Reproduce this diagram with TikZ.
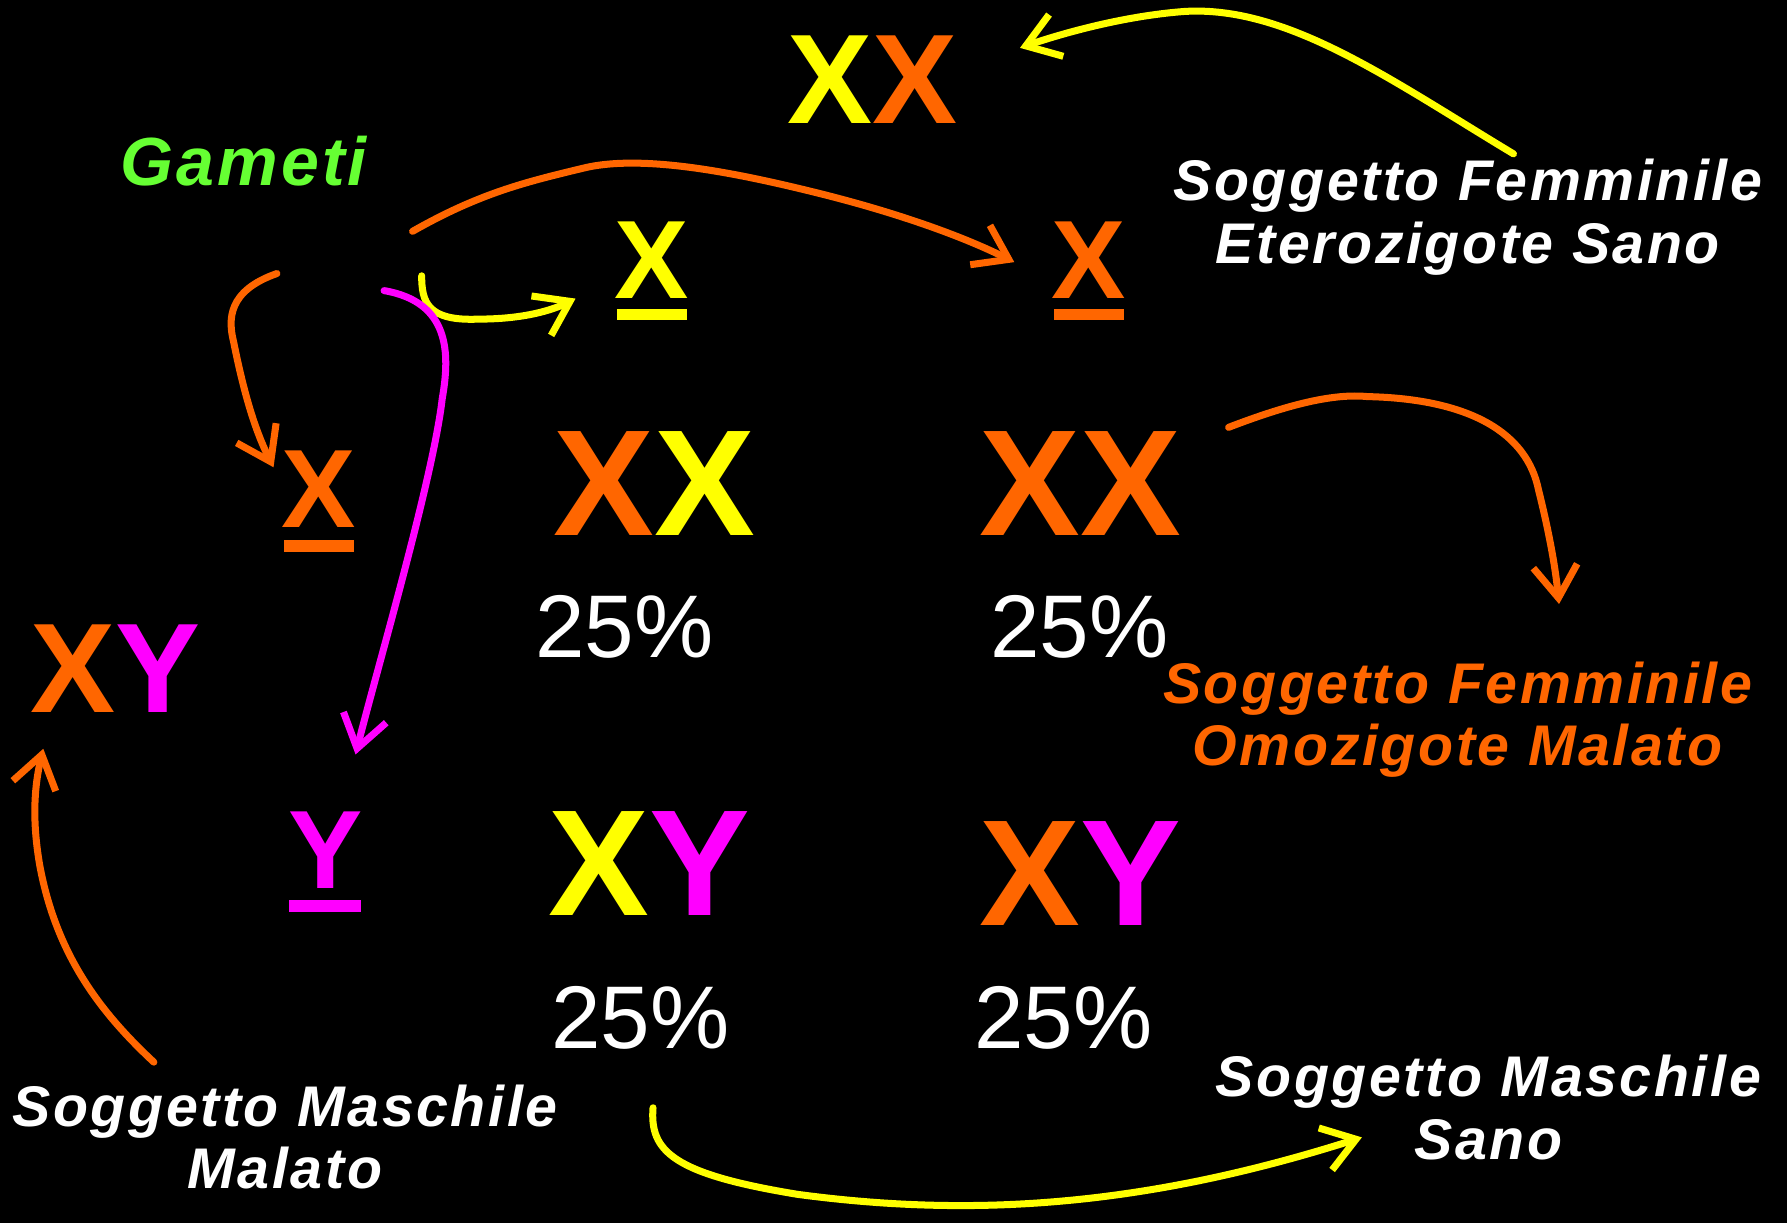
\documentclass[tikz,border=0pt]{standalone}
\usepackage{fontspec}
\setmainfont{Liberation Sans}
\newfontfamily\lblfont[LetterSpace=4.5]{Liberation Sans}
\usetikzlibrary{arrows.meta}
\definecolor{org}{HTML}{FF6600}
\definecolor{yel}{HTML}{FFFF00}
\definecolor{mag}{HTML}{FF00FF}
\definecolor{grn}{HTML}{66FF33}
\tikzset{
  bigpair/.style={inner sep=0, anchor=base, font=\fontsize{37.7}{40}\selectfont\bfseries},
  midpair/.style={inner sep=0, anchor=base, font=\fontsize{31.8}{34}\selectfont\bfseries},
  gamete/.style={inner sep=0, anchor=base, font=\fontsize{27.8}{30}\selectfont\bfseries},
  pct/.style={inner sep=0, anchor=base, text=white, font=\fontsize{22.2}{24}\selectfont},
  lbl/.style={inner sep=0, anchor=base, align=center, font=\lblfont\fontsize{14.3}{15.6}\selectfont\bfseries\itshape},
  conn/.style={line width=1.75pt, line cap=round, -{Straight Barb[length=8pt,width=11pt,line width=1.75pt]}},
}
\begin{document}
\begin{tikzpicture}[x=0.01cm,y=-0.01cm]
\fill[black] (0,0) rectangle (1568,1073);
\useasboundingbox (0,0) rectangle (1568,1073);

% parents
\node[midpair] (ptop) at (766,108) {\color{yel}X\color{org}X};
\node[midpair] (pleft) at (101,625) {\color{org}X\color{mag}Y};

% gametes title
\node[inner sep=0, anchor=base west, text=grn, font=\lblfont\fontsize{17}{19}\selectfont\bfseries\itshape] (gam) at (105,163) {Gameti};

% gametes
\node[gamete, text=yel] (gx1) at (572,262) {X};
\fill[yel] (541,271) rectangle (603,281);
\node[gamete, text=org] (gx2) at (955,262) {X};
\fill[org] (925,271) rectangle (986,281);
\node[gamete, text=org] (gx3) at (280,463) {X};
\fill[org] (249,474) rectangle (311,484);
\node[gamete, text=mag] (gy) at (286,780) {Y};
\fill[mag] (254,790) rectangle (317,800);

% offspring
\node[bigpair] (o11) at (574,470) {\color{org}X\color{yel}X};
\node[bigpair] (o12) at (948,470) {\color{org}X\color{org}X};
\node[bigpair] (o21) at (570,803) {\color{yel}X\color{mag}Y};
\node[bigpair] (o22) at (948,812) {\color{org}X\color{mag}Y};

\node[pct] (p11) at (548,577) {25\%};
\node[pct] (p12) at (947,577) {25\%};
\node[pct] (p21) at (562,920) {25\%};
\node[pct] (p22) at (933,920) {25\%};

% labels (anchor base = last line)
\node[lbl, text=white] (l1) at (1288,231) {Soggetto Femminile\\Eterozigote Sano};
\node[lbl, text=org] (l2) at (1279,672) {Soggetto Femminile\\Omozigote Malato};
\node[lbl, text=white] (l3) at (1306,1017) {Soggetto Maschile\\Sano};
\node[lbl, text=white] (l4) at (250,1043) {Soggetto Maschile\\Malato};

% connector end points
\coordinate (a0) at (1328,135); \coordinate (a1) at (895,42);
\coordinate (b0) at (362,203);  \coordinate (b1) at (890,230);
\coordinate (c0) at (370,242);  \coordinate (c1) at (505,262);
\coordinate (d0) at (337,255);  \coordinate (d1) at (312,662);
\coordinate (e0) at (243,240);  \coordinate (e1) at (240,410);
\coordinate (f0) at (1078,375); \coordinate (f1) at (1368,530);
\coordinate (g0) at (135,932);  \coordinate (g1) at (38,657);
\coordinate (h0) at (573,972);  \coordinate (h1) at (1195,998);

\draw[conn, yel] (a0) .. controls (1220,70) and (1130,5) .. (1040,10) .. controls (985,14) and (930,30) .. (a1);
\draw[conn, org] (b0) .. controls (420,170) and (460,160) .. (510,148) .. controls (560,135) and (640,150) .. (720,170) .. controls (780,185) and (840,205) .. (b1);
\draw[conn, yel] (c0) .. controls (370,265) and (375,282) .. (420,280) .. controls (460,280) and (485,272) .. (c1);
\draw[conn, mag] (d0) .. controls (395,265) and (395,310) .. (388,350) .. controls (380,420) and (330,590) .. (d1);
\draw[conn, org] (e0) .. controls (200,255) and (200,280) .. (205,300) .. controls (215,350) and (225,380) .. (e1);
\draw[conn, org] (f0) .. controls (1130,355) and (1170,345) .. (1200,348) .. controls (1290,350) and (1340,380) .. (1350,430) .. controls (1360,470) and (1365,500) .. (f1);
\draw[conn, org] (g0) .. controls (90,890) and (50,840) .. (35,760) .. controls (28,720) and (30,690) .. (g1);
\draw[conn, yel] (h0) .. controls (570,1010) and (590,1030) .. (700,1048) .. controls (850,1068) and (1000,1060) .. (h1);
\end{tikzpicture}
\end{document}
